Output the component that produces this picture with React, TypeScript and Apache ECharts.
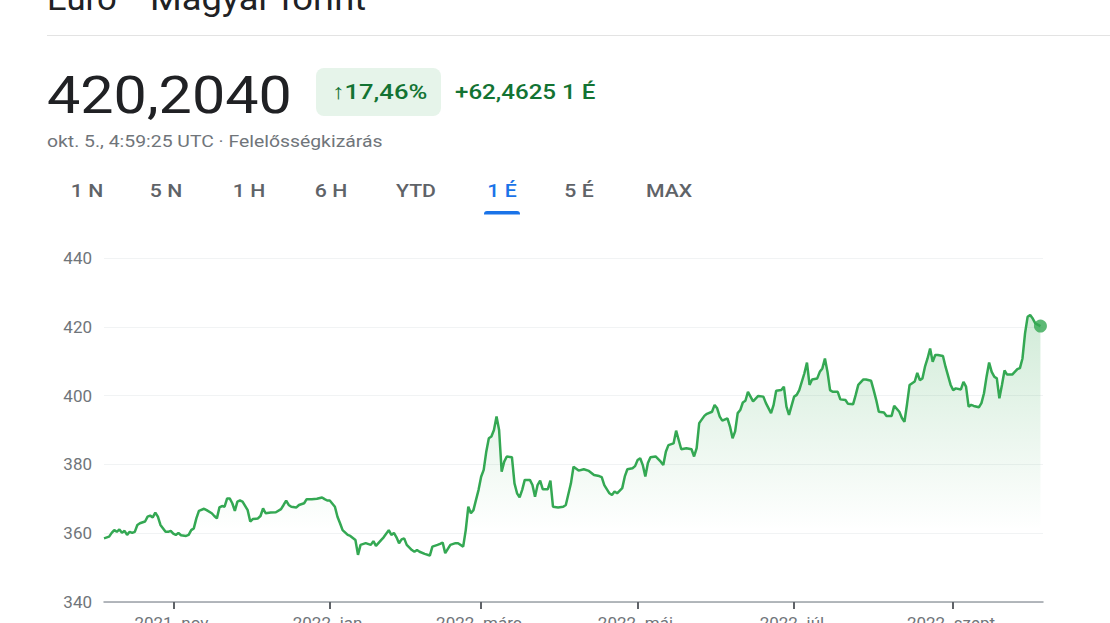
import React, { useEffect, useRef } from "react";
import * as echarts from "echarts";

// Days since 2021-10-05 (start of the 1-year window)
const dayOffsets: number[] = [
  0, 2, 3, 4, 5, 6, 7, 8, 9, 10, 11, 12, 13, 14, 16, 17, 18, 19, 20, 21, 22, 24, 25, 26, 27, 28, 29, 30, 32, 33,
  34, 35, 36, 37, 39, 40, 42, 43, 44, 45, 46, 47, 48, 49, 50, 51, 52, 53, 54, 56, 57, 58, 60, 61, 62, 63, 65, 67,
  69, 70, 71, 72, 73, 75, 76, 78, 79, 81, 83, 85, 86, 87, 88, 90, 91, 92, 93, 95, 96, 98, 99, 100, 102, 104, 105,
  106, 108, 109, 111, 112, 113, 114, 115, 116, 117, 118, 120, 121, 122, 123, 125, 127, 128, 130, 131, 132, 133,
  135, 137, 138, 140, 141, 142, 143, 144, 145, 146, 147, 148, 149, 150, 151, 152, 153, 154, 155, 156, 157, 159,
  160, 161, 162, 163, 164, 166, 167, 168, 169, 170, 171, 173, 174, 175, 177, 179, 180, 182, 183, 185, 187, 189,
  191, 193, 194, 195, 197, 198, 199, 200, 202, 203, 204, 206, 207, 208, 209, 210, 211, 212, 213, 215, 217, 218,
  219, 220, 222, 223, 224, 225, 227, 229, 230, 231, 232, 234, 235, 237, 238, 239, 240, 241, 243, 244, 245, 246,
  247, 248, 249, 250, 251, 253, 255, 257, 258, 260, 261, 262, 264, 265, 266, 267, 269, 270, 271, 273, 274, 275,
  276, 278, 279, 280, 281, 282, 283, 284, 286, 287, 289, 290, 292, 293, 294, 296, 297, 299, 300, 301, 302, 304,
  305, 307, 308, 310, 311, 312, 313, 314, 316, 317, 318, 319, 320, 321, 322, 323, 324, 325, 327, 328, 330, 331,
  332, 334, 335, 336, 337, 338, 339, 341, 342, 343, 344, 345, 346, 347, 348, 349, 350, 351, 352, 354, 356, 357,
  358, 359, 360, 361, 362, 363, 365,
];

// EUR/HUF rate
const rates: number[] = [
  358.5, 359.0, 360.1, 360.9, 360.4, 361.1, 360.1, 360.7, 359.5, 360.4, 360.1, 360.4, 362.4, 362.9, 363.4, 364.8,
  365.1, 364.6, 366.0, 364.8, 362.4, 360.4, 360.4, 360.7, 359.9, 359.5, 360.1, 359.4, 359.2, 359.5, 360.9, 361.4,
  364.3, 366.5, 367.1, 366.7, 365.8, 365.0, 364.3, 367.5, 367.9, 367.7, 370.1, 370.1, 368.7, 366.5, 369.2, 369.5,
  369.2, 366.7, 363.4, 364.1, 364.3, 365.0, 367.2, 365.8, 366.0, 366.1, 367.0, 368.2, 369.5, 368.2, 367.7, 367.5,
  368.2, 368.7, 369.9, 369.9, 370.0, 370.4, 369.9, 369.5, 369.5, 367.7, 364.8, 362.9, 360.9, 359.5, 359.2, 358.0,
  353.7, 356.6, 357.1, 356.6, 357.7, 356.3, 358.0, 358.8, 360.9, 359.5, 360.1, 358.8, 357.1, 358.2, 358.5, 356.6,
  355.1, 354.6, 355.1, 354.6, 354.0, 353.5, 356.1, 356.6, 356.9, 357.3, 354.2, 356.6, 357.1, 357.1, 356.1, 360.9,
  367.7, 365.8, 366.7, 369.7, 372.6, 376.4, 378.4, 383.7, 387.6, 388.1, 390.0, 393.9, 390.0, 377.9, 380.8, 382.3,
  382.1, 374.5, 371.6, 370.4, 372.6, 375.5, 375.5, 374.0, 370.6, 374.0, 375.3, 372.8, 372.8, 375.3, 367.7, 367.5,
  367.7, 368.2, 374.5, 379.3, 378.2, 378.6, 378.1, 376.9, 376.6, 376.3, 374.0, 371.6, 371.1, 372.1, 371.6, 373.1,
  376.5, 378.6, 378.9, 379.5, 381.3, 381.8, 379.8, 376.5, 380.4, 382.1, 382.3, 380.8, 379.8, 383.7, 385.6, 386.1,
  389.8, 387.1, 384.4, 384.7, 384.4, 382.3, 384.7, 392.0, 394.1, 394.7, 395.3, 397.3, 396.3, 393.9, 392.7, 393.4,
  391.0, 387.6, 389.6, 394.9, 395.8, 398.0, 398.5, 401.1, 398.3, 399.9, 399.7, 397.8, 394.9, 397.3, 401.4, 401.6,
  402.6, 396.8, 394.4, 399.7, 400.2, 401.6, 406.5, 409.6, 403.1, 404.7, 405.0, 406.9, 407.9, 410.8, 406.9, 401.6,
  401.1, 401.1, 398.9, 398.7, 397.6, 397.5, 400.2, 403.1, 404.7, 404.7, 404.3, 401.6, 398.7, 395.3, 395.1, 394.1,
  394.1, 397.0, 395.3, 393.5, 392.4, 397.5, 403.1, 404.1, 406.6, 404.5, 405.0, 408.4, 410.8, 413.7, 409.8, 411.8,
  411.8, 411.5, 408.4, 403.1, 401.6, 402.1, 401.8, 404.0, 402.6, 396.8, 397.3, 397.0, 396.6, 397.8, 400.7, 405.5,
  409.6, 406.9, 405.5, 405.0, 399.2, 403.1, 407.3, 406.1, 406.1, 407.7, 408.0, 410.8, 418.1, 422.9, 423.4, 422.4,
  421.0, 420.204,
];

const monthTickDays: number[] = [27, 88, 147, 208, 269, 331];
const monthTickLabels: string[] = ["2021. nov.", "2022. jan.", "2022. márc.", "2022. máj.", "2022. júl.", "2022. szept."];

const rangeTabs: string[] = ["1 N", "5 N", "1 H", "6 H", "YTD", "1 É", "5 É", "MAX"];
const rangeTabCenters: number[] = [87, 166, 249, 331, 416, 502, 579, 669];
const activeTab = "1 É";

const FONT = "Roboto, 'Noto Sans', Arial, sans-serif";

export default function App() {
  const ref = useRef<HTMLDivElement>(null);

  useEffect(() => {
    if (!ref.current) return;
    const chart = echarts.init(ref.current, undefined, { renderer: "svg" });
    const lineData = dayOffsets.map((d, i) => [d, rates[i]]);
    const last = lineData[lineData.length - 1];

    const tabTexts = rangeTabs.map((t, i) => ({
      type: "text",
      x: rangeTabCenters[i],
      y: 191,
      scaleX: 1.18,
      style: {
        text: t,
        fontSize: 18,
        fontWeight: 500,
        fontFamily: FONT,
        fill: t === activeTab ? "#1a73e8" : "#5f6368",
        align: "center",
        verticalAlign: "middle",
      },
    }));

    chart.setOption({
      animation: false,
      backgroundColor: "#ffffff",
      grid: { left: 104, right: 67, top: 258, bottom: 21, containLabel: false, outerBoundsMode: "none" },
      xAxis: {
        type: "value",
        min: 0,
        max: 366,
        axisLine: { show: true, lineStyle: { color: "#9aa0a6", width: 1.5 } },
        axisTick: {
          show: true,
          customValues: monthTickDays,
          length: 7,
          lineStyle: { color: "#5f6368", width: 2 },
        },
        axisLabel: {
          customValues: monthTickDays,
          formatter: (v: number) => {
            const i = monthTickDays.indexOf(v);
            return i >= 0 ? monthTickLabels[i] : "";
          },
          margin: 12,
          color: "#70757a",
          fontSize: 17,
          fontFamily: FONT,
        },
        splitLine: { show: false },
      },
      yAxis: {
        type: "value",
        min: 340,
        max: 440,
        interval: 20,
        axisLine: { show: false },
        axisTick: { show: false },
        axisLabel: { margin: 12, color: "#70757a", fontSize: 17, fontFamily: FONT },
        splitLine: { lineStyle: { color: "#f1f3f4", width: 1 } },
      },
      series: [
        {
          type: "line",
          data: lineData,
          showSymbol: false,
          symbol: "none",
          lineStyle: { color: "#34a853", width: 2.5 },
          areaStyle: {
            color: new echarts.graphic.LinearGradient(0, 0, 0, 1, [
              { offset: 0, color: "rgba(52,168,83,0.32)" },
              { offset: 0.75, color: "rgba(52,168,83,0.0)" },
              { offset: 1, color: "rgba(52,168,83,0.0)" },
            ]),
          },
          z: 3,
        },
        {
          type: "scatter",
          data: [last],
          symbol: "circle",
          symbolSize: 13,
          itemStyle: { color: "#34a853" },
          z: 4,
        },
      ],
      graphic: [
        {
          type: "text",
          x: 47,
          y: -1,
          scaleX: 1.05,
          style: { text: "Euró", fontSize: 33, fontFamily: FONT, fill: "#202124", align: "left", verticalAlign: "middle" },
        },
        {
          type: "text",
          x: 150,
          y: -1,
          scaleX: 1.1,
          style: { text: "Magyar forint", fontSize: 33, fontFamily: FONT, fill: "#202124", align: "left", verticalAlign: "middle" },
        },
        {
          type: "line",
          shape: { x1: 47, y1: 35.5, x2: 1110, y2: 35.5 },
          style: { stroke: "#e3e3e3", lineWidth: 1 },
        },
        {
          type: "text",
          x: 47,
          y: 95,
          scaleX: 1.14,
          style: { text: "420,2040", fontSize: 52, fontFamily: FONT, fill: "#202124", align: "left", verticalAlign: "middle" },
        },
        {
          type: "rect",
          shape: { x: 316, y: 68, width: 125, height: 48, r: 8 },
          style: { fill: "#e6f4ea" },
        },
        {
          type: "text",
          x: 379.5,
          y: 92,
          scaleX: 1.22,
          style: { text: "↑17,46%", fontSize: 21, fontWeight: 500, fontFamily: FONT, fill: "#137333", align: "center", verticalAlign: "middle" },
        },
        {
          type: "text",
          x: 455,
          y: 92,
          scaleX: 1.15,
          style: { text: "+62,4625 1 É", fontSize: 21, fontWeight: 500, fontFamily: FONT, fill: "#137333", align: "left", verticalAlign: "middle" },
        },
        {
          type: "text",
          x: 47,
          y: 141,
          scaleX: 1.14,
          style: {
            text: "okt. 5., 4:59:25 UTC · Felelősségkizárás",
            fontSize: 17,
            fontFamily: FONT,
            fill: "#70757a",
            align: "left",
            verticalAlign: "middle",
          },
        },
        ...tabTexts,
        {
          type: "rect",
          shape: { x: 484, y: 211, width: 36, height: 3.5, r: [3, 3, 0, 0] },
          style: { fill: "#1a73e8" },
        },
      ],
    });
    return () => chart.dispose();
  }, []);

  return (
    <div
      ref={ref}
      style={{ position: "absolute", left: 0, top: 0, width: 1110, height: 623, background: "#fff" }}
    />
  );
}
